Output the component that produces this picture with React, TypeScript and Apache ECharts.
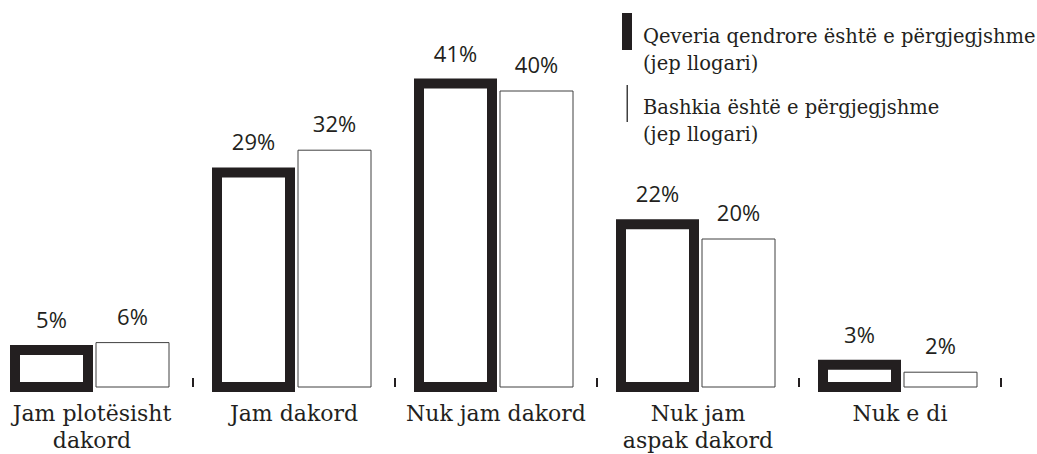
import React, { useEffect, useRef } from "react";
import * as echarts from "echarts";

const categories = [
  "Jam plotësisht\ndakord",
  "Jam dakord",
  "Nuk jam dakord",
  "Nuk jam\naspak dakord",
  "Nuk e di",
];
const seriesNames = [
  "Qeveria qendrore është e përgjegjshme\n(jep llogari)",
  "Bashkia është e përgjegjshme\n(jep llogari)",
];
const centralGov = [5, 29, 41, 22, 3];
const municipality = [6, 32, 40, 20, 2];

const DARK = "#231f20";
const GREY = "#404040";
const SERIF = "'DejaVu Serif', serif";
const SANS = "'Open Sans', sans-serif";

const BAR_W = 73;
const OFFSET = 40.5;

function makeRender(offset: number, stroke: string, lineWidth: number, labelGap: number) {
  return (_params: any, api: any) => {
    const idx = api.value(0);
    const val = api.value(1);
    const top = api.coord([idx, val]);
    const base = api.coord([idx, 0]);
    const cx = top[0] + offset;
    return {
      type: "group",
      children: [
        {
          type: "rect",
          shape: { x: cx - BAR_W / 2, y: top[1], width: BAR_W, height: base[1] - top[1] },
          style: { fill: "#ffffff", stroke, lineWidth },
        },
        {
          type: "text",
          style: {
            text: val + "%",
            x: cx,
            y: top[1] - labelGap,
            align: "center",
            verticalAlign: "bottom",
            fontFamily: SANS,
            fontSize: 22,
            fill: DARK,
          },
        },
      ],
    };
  };
}

export default function App() {
  const ref = useRef<HTMLDivElement>(null);
  useEffect(() => {
    if (!ref.current) return;
    const chart = echarts.init(ref.current, null, { renderer: "svg" });
    chart.setOption({
      animation: false,
      backgroundColor: "#ffffff",
      grid: {
        left: -9,
        right: 36,
        top: 17,
        bottom: 67,
        containLabel: false,
        outerBoundsMode: "none",
      },
      xAxis: {
        type: "category",
        data: categories,
        boundaryGap: true,
        axisLine: { show: false },
        axisTick: {
          show: true,
          inside: true,
          length: 9,
          lineStyle: { color: DARK, width: 2 },
        },
        axisLabel: {
          interval: 0,
          margin: 13,
          fontFamily: SERIF,
          fontSize: 22,
          lineHeight: 27,
          color: DARK,
        },
      },
      yAxis: {
        type: "value",
        min: 0,
        max: 50,
        show: false,
        splitLine: { show: false },
      },
      graphic: [
        {
          type: "rect",
          shape: { x: 622, y: 13, width: 10, height: 37 },
          style: { fill: DARK },
        },
        {
          type: "text",
          x: 643,
          y: 23,
          style: {
            text: seriesNames[0],
            font: `19.5px ${SERIF}`,
            fill: DARK,
            lineHeight: 27,
            verticalAlign: "top",
          },
        },
        {
          type: "rect",
          shape: { x: 626.5, y: 85, width: 1.5, height: 37 },
          style: { fill: GREY },
        },
        {
          type: "text",
          x: 643,
          y: 94,
          style: {
            text: seriesNames[1],
            font: `19.5px ${SERIF}`,
            fill: DARK,
            lineHeight: 27,
            verticalAlign: "top",
          },
        },
      ],
      series: [
        {
          name: seriesNames[0],
          type: "custom",
          clip: false,
          encode: { x: 0, y: 1 },
          data: centralGov.map((v, i) => [i, v]),
          renderItem: makeRender(-OFFSET, DARK, 10, 20),
        },
        {
          name: seriesNames[1],
          type: "custom",
          clip: false,
          encode: { x: 0, y: 1 },
          data: municipality.map((v, i) => [i, v]),
          renderItem: makeRender(OFFSET, GREY, 1, 16),
        },
      ],
    });
    return () => chart.dispose();
  }, []);
  return (
    <div
      ref={ref}
      style={{ position: "absolute", left: 0, top: 0, width: 1037, height: 454 }}
    />
  );
}
